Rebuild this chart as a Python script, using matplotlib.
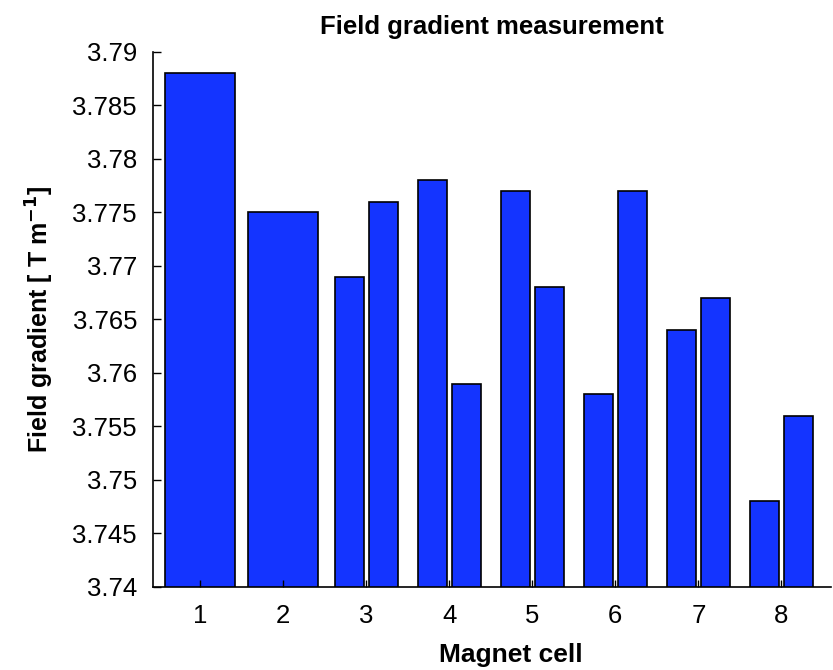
import numpy as np
import matplotlib
matplotlib.use("Agg")
import matplotlib.pyplot as plt

plt.rcParams['font.family'] = ['Liberation Sans', 'DejaVu Sans']

cells = [1, 2, 3, 4, 5, 6, 7, 8]
tick_labels = ['1', '2', '3', '4', '5', '6', '7', '8']
first_meas = [3.788, 3.775, 3.769, 3.778, 3.777, 3.758, 3.764, 3.748]
second_meas = [np.nan, np.nan, 3.776, 3.759, 3.768, 3.777, 3.767, 3.756]
y_tick_values = [3.74, 3.745, 3.75, 3.755, 3.76, 3.765, 3.77, 3.775, 3.78, 3.785, 3.79]
y_tick_labels = ['3.74', '3.745', '3.75', '3.755', '3.76', '3.765',
                 '3.77', '3.775', '3.78', '3.785', '3.79']

bar_color = '#1434FF'

fig = plt.figure(figsize=(8.33, 6.70), dpi=100)
ax = fig.add_axes([0.1837, 0.1239, 0.8133, 0.7985])

cells_a = np.array(cells, dtype=float)
first_a = np.array(first_meas)
second_a = np.array(second_meas)
single = np.isnan(second_a)

ax.bar(cells_a[single], first_a[single], width=0.84, color=bar_color,
       edgecolor='black', linewidth=1.2)
ax.bar(cells_a[~single] - 0.205, first_a[~single], width=0.35, color=bar_color,
       edgecolor='black', linewidth=1.2)
ax.bar(cells_a[~single] + 0.205, second_a[~single], width=0.35, color=bar_color,
       edgecolor='black', linewidth=1.2)

ax.set_ylim(3.74, 3.79)
ax.set_xlim(0.434, 8.59)
ax.set_yticks(y_tick_values)
ax.set_yticklabels(y_tick_labels)
ax.set_xticks(cells)
ax.set_xticklabels(tick_labels)

ax.spines['top'].set_visible(False)
ax.spines['right'].set_visible(False)
for s in ['left', 'bottom']:
    ax.spines[s].set_linewidth(1.2)
ax.tick_params(axis='both', direction='in', length=6, width=1.0,
               labelsize=18.5, colors='black')
ax.tick_params(axis='y', pad=11.5)
ax.tick_params(axis='x', length=5, pad=12)

ax.set_title('Field gradient measurement', fontsize=18.5, fontweight='bold', pad=13)
ax.set_xlabel('Magnet cell', fontsize=19, fontweight='bold')
ax.xaxis.set_label_coords(0.528, -0.105)
ax.set_ylabel(r'Field gradient [ T m$^{\mathbf{-1}}$]', fontsize=18, fontweight='bold', labelpad=12)

fig.savefig('out.png', dpi=100)
